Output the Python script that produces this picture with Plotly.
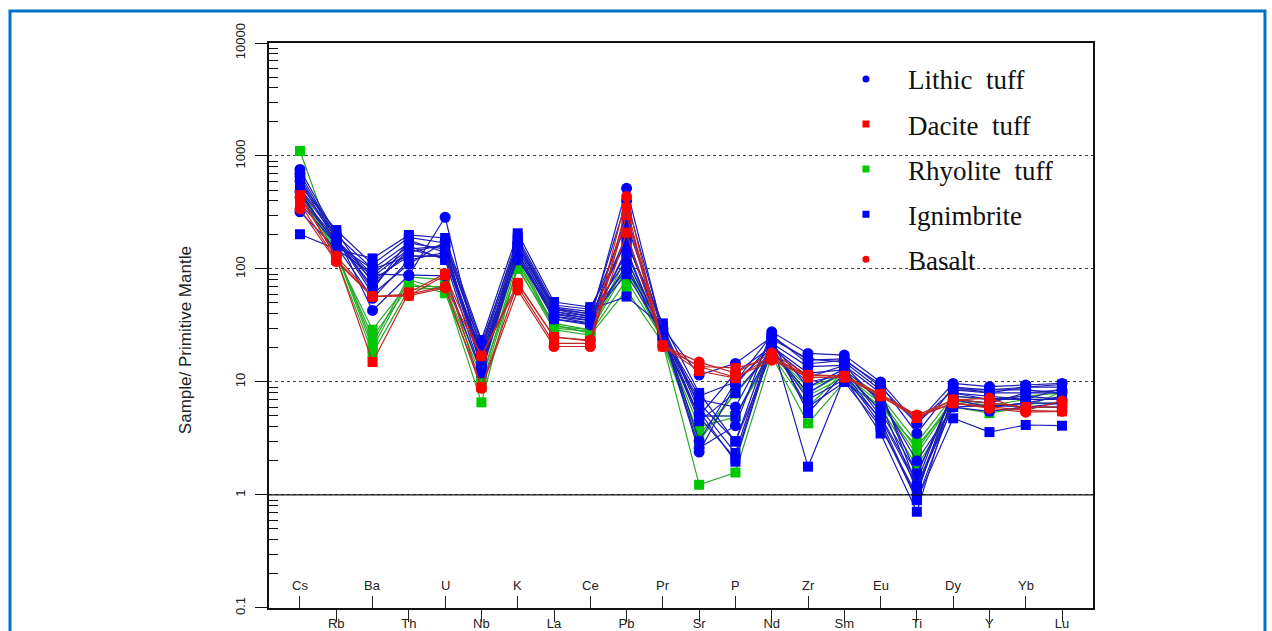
import plotly.graph_objects as go

elements = ["Cs", "Rb", "Ba", "Th", "U", "Nb", "K", "La", "Ce", "Pb", "Pr",
            "Sr", "P", "Nd", "Zr", "Sm", "Eu", "Ti", "Dy", "Y", "Yb", "Lu"]

# Lithic tuff (blue circles)
lithic_tuff = [
    [760, 200, 43, 88, 287, 14, 150, 40, 35, 518, 28, 2.6, 4.1, 27.8, 17.9, 17.3, 10, 4.3, 9.7, 9.1, 9.4, 9.7],
    [656, 180, 70, 150, 160, 20, 160, 45, 40, 98, 30, 11.5, 14.6, 25, 15.6, 16, 9, 4.3, 8.5, 8.5, 8.5, 8],
    [600, 170, 80, 130, 130, 16, 130, 38, 33, 300, 27, 2.4, 9.4, 22, 13.7, 14, 8, 1.5, 8, 7.5, 7, 7],
    [483, 160, 55, 120, 140, 18, 120, 42, 36, 200, 25, 7, 6, 24, 16, 15, 8.5, 1.2, 7, 6, 6.5, 6.5],
    [321, 150, 90, 88, 87, 12, 140, 36, 32, 150, 24, 5, 12, 20.6, 12, 12.8, 7, 2, 6, 5.5, 6, 6],
    [700, 190, 60, 110, 175, 22, 170, 44, 38, 400, 29, 3, 10, 26, 14.5, 15.5, 9.5, 3.5, 9, 8, 8, 8.5],
]

# Ignimbrite (blue squares)
ignimbrite = [
    [203, 150, 124, 200, 188, 23.5, 207, 51, 46, 170, 33, 8, 2.96, 24, 5.3, 12, 4.6, 0.9, 4.77, 3.6, 4.16, 4.1],
    [550, 221, 110, 190, 170, 20, 190, 48, 44, 57, 31, 6, 2.35, 23, 1.78, 11, 3.5, 0.71, 8, 7, 7.5, 7],
    [520, 200, 100, 170, 150, 15, 180, 46, 42, 250, 30, 5.5, 1.97, 21, 6, 10, 4, 1.0, 9, 8.5, 9, 9.5],
    [450, 180, 90, 160, 120, 12, 170, 44, 40, 120, 28, 4.9, 2.1, 22, 9, 13, 5, 1.3, 8.5, 8, 9, 9],
    [600, 210, 75, 140, 165, 13, 160, 42, 38, 90, 27, 7.5, 10, 20, 11, 14, 6.5, 1.1, 7, 6.5, 8, 8],
    [500, 190, 65, 180, 140, 17, 150, 40, 37, 180, 26, 4.5, 8, 19, 8, 12.5, 5.5, 1.55, 7.5, 7, 7, 8.8],
    [420, 175, 85, 150, 125, 19, 140, 38, 35, 140, 25, 6.5, 3, 18, 10, 11.5, 4.2, 0.9, 6.5, 6, 6.5, 7.5],
    [380, 165, 100, 130, 130, 14, 130, 36, 33, 110, 24, 5, 5, 20, 7, 10.5, 4.8, 1.2, 6, 6.2, 6, 6.5],
]

# Rhyolite tuff (green squares)
rhyolite_tuff = [
    [1107, 140, 20, 80, 65, 6.6, 110, 33, 29, 128, 22, 1.23, 1.58, 17, 4.3, 10, 6, 1.78, 6, 5.3, 6, 8.2],
    [553, 130, 29, 75, 61, 10, 120, 30, 28, 100, 23, 3.4, 7.9, 18, 7.6, 11, 6.05, 2.7, 6.5, 6, 6.5, 6.5],
    [500, 135, 25, 70, 70, 11, 100, 32, 27, 80, 24, 4, 4.9, 19, 8, 12, 7, 2.5, 7, 6.5, 6, 6],
    [480, 125, 18, 66, 68, 9, 105, 29, 26, 65, 22, 3, 8, 18, 9, 11.5, 6.5, 2.3, 6.8, 6.2, 7, 7],
    [520, 145, 22, 85, 80, 12, 130, 31, 29, 110, 25, 5, 5, 17.5, 6, 12.5, 7.5, 2.9, 7.5, 7, 7.5, 8],
]

# Dacite tuff (red squares)
dacite_tuff = [
    [450, 125, 15, 62, 91, 9, 75, 25, 23, 210, 21, 13.7, 13.3, 16, 11.5, 11.3, 7.8, 5.0, 6.5, 6, 5.6, 5.5],
    [380, 120, 57, 58, 88, 17, 70, 22, 22, 300, 20.6, 12.5, 10.8, 17, 11, 11, 7.5, 4.8, 7, 6.5, 6, 6],
]

# Basalt (red circles)
basalt = [
    [431, 130, 57, 60, 70, 17, 75, 25, 23.5, 437, 21, 15, 12, 18, 11.5, 11.3, 7.8, 5.1, 6.9, 7.2, 5.6, 6.8],
    [340, 116, 57, 58, 68, 8.8, 65, 20.6, 20.6, 355, 20.6, 13.7, 11, 15.6, 11, 11, 7.5, 4.9, 6.5, 5.85, 5.4, 5.5],
]

legend_names = ["Lithic\u00a0 tuff", "Dacite\u00a0 tuff", "Rhyolite\u00a0 tuff", "Ignimbrite", "Basalt"]

BLUE, RED, GREEN = "#0000FF", "#FF0000", "#00C800"
BLUE_L, RED_L, GREEN_L = "#1c1cb8", "#c02828", "#2aa82a"

xs = list(range(len(elements)))
fig = go.Figure()

def add_group(samples, mcol, lcol, symbol, size):
    for s in samples:
        fig.add_trace(go.Scatter(
            x=xs, y=s, mode="lines+markers", showlegend=False,
            line=dict(color=lcol, width=1.2),
            marker=dict(color=mcol, symbol=symbol, size=size, line=dict(width=0)),
            hoverinfo="skip"))

add_group(rhyolite_tuff, GREEN, GREEN_L, "square", 10)
add_group(ignimbrite, BLUE, BLUE_L, "square", 10)
add_group(lithic_tuff, BLUE, BLUE_L, "circle", 11)
add_group(dacite_tuff, RED, RED_L, "square", 10)
add_group(basalt, RED, RED_L, "circle", 11)

leg_style = [(BLUE, "circle"), (RED, "square"), (GREEN, "square"), (BLUE, "square"), (RED, "circle")]
for i, (name, (c, sym)) in enumerate(zip(legend_names, leg_style)):
    fig.add_trace(go.Scatter(x=[None], y=[None], mode="markers", name=name,
                             legendgroup=f"g{i}",
                             marker=dict(color=c, symbol=sym, size=7)))

# helper trace for the upper tick axis
fig.add_trace(go.Scatter(x=[0], y=[None], xaxis="x2", mode="markers",
                         showlegend=False, hoverinfo="skip"))

xr = [-0.854, 21.854]
even = xs[0::2]
odd = xs[1::2]

minor_vals = [m * 10 ** e for e in range(-1, 4) for m in range(2, 10)]

annotations = [dict(text="Sample/ Primitive Mantle", xref="paper", yref="paper",
                    x=-0.102, y=0.474, xanchor="center", yanchor="middle",
                    textangle=-90, showarrow=False,
                    font=dict(size=17, color="#222"))]
for i in even:
    annotations.append(dict(text=elements[i], xref="x", yref="paper", x=i, y=0.0398,
                            xanchor="center", yanchor="middle", showarrow=False,
                            font=dict(size=13, color="#222")))

fig.update_layout(
    width=1272, height=631,
    margin=dict(l=269, r=179, t=43, b=23),
    paper_bgcolor="white", plot_bgcolor="white",
    font=dict(family="Arial, Liberation Sans, sans-serif", color="#222"),
    xaxis=dict(range=xr, tickmode="array", tickvals=odd,
               ticktext=[elements[i] for i in odd], automargin=False,
               ticks="outside", ticklen=12, tickcolor="#222", tickwidth=1,
               ticklabelstandoff=-9,
               showline=True, linecolor="#111", linewidth=1.5, mirror=True,
               showgrid=False, zeroline=False, tickfont=dict(size=13)),
    xaxis2=dict(range=xr, overlaying="x", side="bottom", anchor="y",
                tickmode="array", tickvals=even, automargin=False,
                ticks="inside", ticklen=12, tickcolor="#222", tickwidth=1,
                showticklabels=False,
                showline=False, showgrid=False, zeroline=False),
    yaxis=dict(type="log", range=[-1.0005, 4], automargin=False,
               tickmode="array", tickvals=[0.1, 1, 10, 100, 1000, 10000],
               ticktext=["0.1", "1", "10", "100", "1000", "10000"],
               tickangle=-90, ticks="outside", ticklen=12, tickcolor="#111",
               tickfont=dict(size=13), ticklabelstandoff=5,
               showline=True, linecolor="#111", linewidth=2, mirror=True,
               showgrid=True, gridcolor="#444", griddash="dot", gridwidth=1,
               zeroline=False,
               minor=dict(tickmode="array", tickvals=minor_vals, ticks="inside",
                          ticklen=9, tickcolor="#111", showgrid=False)),
    legend=dict(x=0.6735, y=0.979, xanchor="left", yanchor="top",
                font=dict(family="Liberation Serif, Times New Roman, serif", size=27, color="#111"),
                bgcolor="rgba(0,0,0,0)", itemwidth=74, tracegroupgap=7,
                traceorder="grouped"),
    annotations=annotations,
    shapes=[
        dict(type="line", xref="paper", yref="y", x0=0, x1=1, y0=1, y1=1,
             line=dict(color="#111", width=1.2)),
        dict(type="rect", xref="paper", yref="paper", x0=-0.3143, x1=1.2087,
             y0=-0.2, y1=1.0566, line=dict(color="#0072C6", width=3), layer="above"),
    ],
)

fig.write_html("out.html")
